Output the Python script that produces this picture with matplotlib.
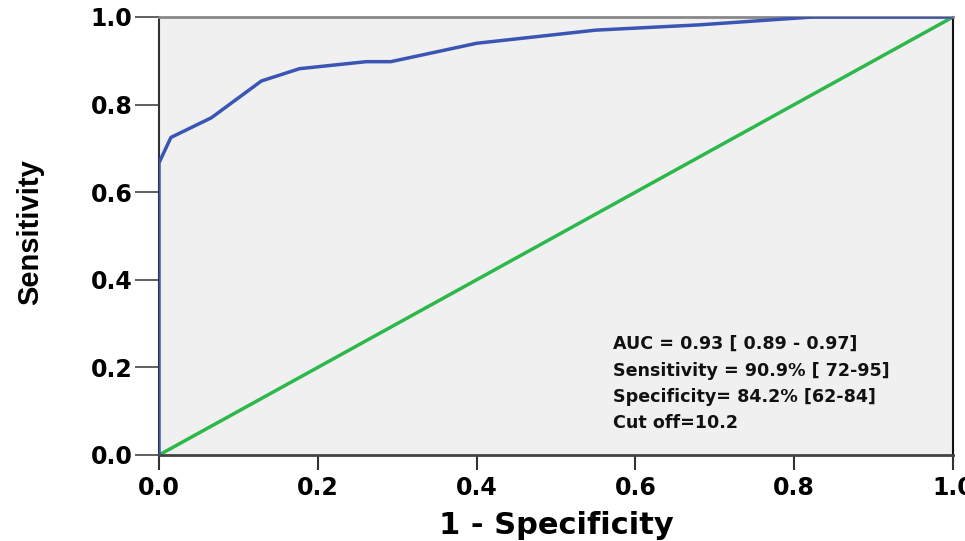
import matplotlib
matplotlib.use("Agg")
import matplotlib.pyplot as plt

# ROC curve data
fpr = [0.0, 0.0, 0.015, 0.066, 0.129, 0.177, 0.261, 0.292, 0.40, 0.55, 0.68, 0.823, 1.0]
tpr = [0.0, 0.667, 0.725, 0.770, 0.854, 0.882, 0.898, 0.898, 0.94, 0.97, 0.982, 1.0, 1.0]
ref_x = [0.0, 1.0]
ref_y = [0.0, 1.0]
ticks = [0.0, 0.2, 0.4, 0.6, 0.8, 1.0]
tick_labels = ["0.0", "0.2", "0.4", "0.6", "0.8", "1.0"]
stats_lines = [
    "AUC = 0.93 [ 0.89 - 0.97]",
    "Sensitivity = 90.9% [ 72-95]",
    "Specificity= 84.2% [62-84]",
    "Cut off=10.2",
]

fig = plt.figure(figsize=(9.65, 5.41), dpi=100)
ax = fig.add_axes([159 / 965, 1 - 455 / 541, (953 - 159) / 965, (455 - 17) / 541])
ax.set_facecolor("#f0f0f0")

ax.plot(ref_x, ref_y, color="#2db84b", lw=2.5, solid_capstyle="butt", zorder=2)
ax.plot(fpr, tpr, color="#3a55b3", lw=2.5, zorder=3)

ax.set_xlim(0, 1)
ax.set_ylim(0, 1)
ax.set_xticks(ticks)
ax.set_yticks(ticks)
ax.set_xticklabels(tick_labels, fontsize=17, fontweight="bold", family="DejaVu Sans")
ax.set_yticklabels(tick_labels, fontsize=17, fontweight="bold", family="DejaVu Sans")
ax.tick_params(axis="x", length=11, width=1.5, color="#333333", pad=4)
ax.tick_params(axis="y", length=17, width=1.2, color="#444444", pad=2)

for side, c, w in [("top", "#888888", 2.0), ("right", "#111111", 1.5),
                   ("left", "#333333", 1.5), ("bottom", "#444444", 2.0)]:
    ax.spines[side].set_color(c)
    ax.spines[side].set_linewidth(w)

ax.set_xlabel("1 - Specificity", fontsize=22, fontweight="bold", family="DejaVu Sans", labelpad=8)
ax.set_ylabel("Sensitivity", fontsize=21, family="Liberation Sans", fontweight="bold")
ax.yaxis.set_label_coords(-0.145, 0.51)

y0 = 344
for i, line in enumerate(stats_lines):
    fig.text(613 / 965, 1 - (y0 + i * 26.5) / 541, line, fontsize=12.6, fontweight="bold",
             family="DejaVu Sans", va="center", ha="left", color="#111111")

fig.savefig("out.png", dpi=100)
